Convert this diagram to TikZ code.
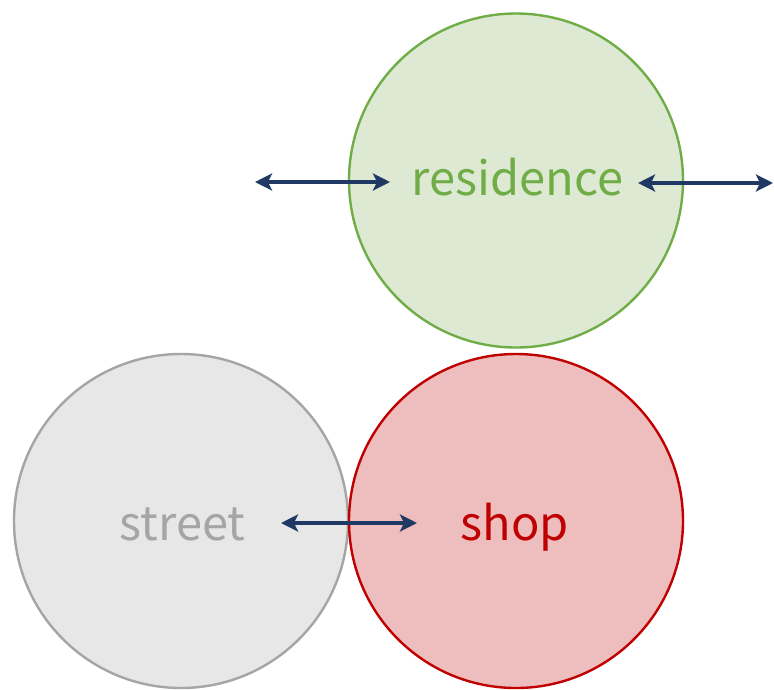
\documentclass[tikz,border=0pt]{standalone}
\usepackage{fontspec}
\setmainfont{Noto Sans CJK JP}
\usetikzlibrary{arrows.meta}
\definecolor{resfill}{HTML}{DDE9D3}
\definecolor{resline}{HTML}{70AD47}
\definecolor{strfill}{HTML}{E7E7E7}
\definecolor{strline}{HTML}{A5A5A5}
\definecolor{shopfill}{HTML}{EEBEBE}
\definecolor{shopline}{HTML}{C00000}
\definecolor{linkblue}{HTML}{203864}
\tikzset{
  zone/.style={circle, minimum size=334pt, inner sep=0pt, line width=2.4pt},
  zonelabel/.style={anchor=base, inner sep=0pt, font=\fontsize{47}{56}\selectfont},
  link/.style={linkblue, line width=4.6pt, {Stealth[length=17pt,width=17pt,inset=4pt]}-{Stealth[length=17pt,width=17pt,inset=4pt]}}
}
\begin{document}
\begin{tikzpicture}[x=1pt,y=-1pt]
\useasboundingbox (0,0) rectangle (774,689);
% the three zones
\node[zone, draw=resline, fill=resfill] (res) at (516,180.5) {};
\node[zone, draw=strline, fill=strfill] (str) at (181,521) {};
\node[zone, draw=shopline, fill=shopfill] (shop) at (516,521) {};
% labels
\node[zonelabel, text=resline] (reslabel) at (517.5,195) {residence};
\node[zonelabel, text=strline] (strlabel) at (182.5,540) {street};
\node[zonelabel, text=shopline] (shoplabel) at (515,540) {shop};
% connector ends
\coordinate (resWout) at (255,182);
\coordinate (resWin) at (390,182);
\coordinate (resEin) at (638,183);
\coordinate (resEout) at (773,183);
\coordinate (strR) at (281,523);
\coordinate (shopL) at (417,523);
% connectors
\draw[link] (resWout) -- (resWin);
\draw[link] (resEin) -- (resEout);
\draw[link] (strR) -- (shopL);
\end{tikzpicture}
\end{document}
